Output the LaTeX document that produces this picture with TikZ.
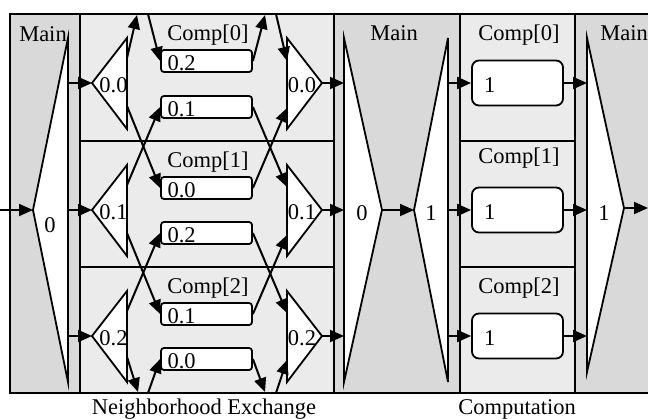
\documentclass[tikz,border=0pt]{standalone}
\usepackage{fontspec}
\setmainfont{Liberation Serif}
\usetikzlibrary{arrows.meta}
\definecolor{maingray}{RGB}{217,217,217}
\definecolor{compgray}{RGB}{235,235,235}

\begin{document}
\begin{tikzpicture}[x=1pt,y=1pt]
\tikzstyle{every node}+=[inner sep=0pt,font=\fontsize{22.5}{27}\selectfont]
\tikzstyle{panel}=[draw=black,line width=1.8pt]
\tikzstyle{tri}=[draw=black,fill=white,line width=1.8pt]
\tikzstyle{arr}=[line width=2pt,-{Triangle[length=14pt,width=12pt]}]
\tikzstyle{xbox}=[draw=black,fill=white,line width=1.8pt,rounded corners=3pt,minimum width=91pt,minimum height=22pt,text width=78pt,inner xsep=6.5pt,align=left,text height=19pt,text depth=0pt]
\tikzstyle{cbox}=[xbox,minimum height=45pt,rounded corners=7pt,text width=67pt,inner xsep=12pt]
\useasboundingbox (0,0) rectangle (648,-418);
% phases
\draw [panel,fill=maingray] (10,-14) rectangle (80,-393);
\draw [panel,fill=compgray] (80,-14) rectangle (334,-393);
\draw [panel,fill=maingray] (334,-14) rectangle (460,-393);
\draw [panel,fill=compgray] (460,-14) rectangle (575,-393);
\draw [panel,fill=maingray] (575,-14) rectangle (652,-393);
\draw [panel] (80,-141) -- (334,-141);
\draw [panel] (80,-267) -- (334,-267);
\draw [panel] (460,-141) -- (575,-141);
\draw [panel] (460,-267) -- (575,-267);
\node [anchor=base] (main1) at (43,-41) {Main};
\node [anchor=base] (main2) at (394,-40) {Main};
\node [anchor=base] (main3) at (624,-40) {Main};
\node [anchor=base] (xlab0) at (208,-40) {Comp[0]};
\node [anchor=base] (xlab1) at (208,-167) {Comp[1]};
\node [anchor=base] (xlab2) at (208,-293) {Comp[2]};
\node [anchor=base] (clab0) at (519,-40) {Comp[0]};
\node [anchor=base] (clab1) at (519,-163) {Comp[1]};
\node [anchor=base] (clab2) at (519,-293) {Comp[2]};
\node [anchor=base] (nelab) at (204,-414) {Neighborhood Exchange};
\node [anchor=base] (cplab) at (517,-414) {Computation};
% main 0 scatter
\coordinate (m1t) at (68,-38);
\coordinate (m1p) at (33,-210);
\coordinate (m1b) at (68,-382);
\draw [tri] (m1t) -- (m1p) -- (m1b) -- cycle;
\node [anchor=base] (m1lab) at (50,-232) {0};
% exchange scatter
\coordinate (sl0t) at (127,-38);
\coordinate (sl0) at (92,-83);
\coordinate (sl0b) at (127,-129);
\coordinate (sl0u) at (127,-58);
\coordinate (sl0d) at (127,-106);
\coordinate (sl1t) at (127,-165);
\coordinate (sl1) at (92,-210);
\coordinate (sl1b) at (127,-256);
\coordinate (sl1u) at (127,-185);
\coordinate (sl1d) at (127,-233);
\coordinate (sl2t) at (127,-291);
\coordinate (sl2) at (92,-336);
\coordinate (sl2b) at (127,-382);
\coordinate (sl2u) at (127,-311);
\coordinate (sl2d) at (127,-357);
\draw [tri] (sl0t) -- (sl0) -- (sl0b) -- cycle;
\draw [tri] (sl1t) -- (sl1) -- (sl1b) -- cycle;
\draw [tri] (sl2t) -- (sl2) -- (sl2b) -- cycle;
\node [anchor=base] (sl0lab) at (113.5,-92) {0.0};
\node [anchor=base] (sl1lab) at (113.5,-219) {0.1};
\node [anchor=base] (sl2lab) at (113.5,-345) {0.2};
% exchange gather
\coordinate (sr0t) at (287,-38);
\coordinate (sr0) at (322,-83);
\coordinate (sr0b) at (287,-129);
\coordinate (sr0u) at (287,-61);
\coordinate (sr0d) at (287,-108);
\coordinate (sr1t) at (287,-165);
\coordinate (sr1) at (322,-210);
\coordinate (sr1b) at (287,-256);
\coordinate (sr1u) at (287,-187);
\coordinate (sr1d) at (287,-235);
\coordinate (sr2t) at (287,-291);
\coordinate (sr2) at (322,-336);
\coordinate (sr2b) at (287,-382);
\coordinate (sr2u) at (287,-313);
\coordinate (sr2d) at (287,-360);
\draw [tri] (sr0t) -- (sr0) -- (sr0b) -- cycle;
\draw [tri] (sr1t) -- (sr1) -- (sr1b) -- cycle;
\draw [tri] (sr2t) -- (sr2) -- (sr2b) -- cycle;
\node [anchor=base] (sr0lab) at (302,-92) {0.0};
\node [anchor=base] (sr1lab) at (302,-219) {0.1};
\node [anchor=base] (sr2lab) at (302,-345) {0.2};
% halo buffers
\node [xbox] (x0a) at (206.5,-61) {0.2};
\node [xbox] (x0b) at (206.5,-107) {0.1};
\node [xbox] (x1a) at (206.5,-188) {0.0};
\node [xbox] (x1b) at (206.5,-233) {0.2};
\node [xbox] (x2a) at (206.5,-314) {0.1};
\node [xbox] (x2b) at (206.5,-359) {0.0};
% main 0 gather, main 1 scatter
\coordinate (m2at) at (344,-38);
\coordinate (m2ap) at (382,-210);
\coordinate (m2ab) at (344,-382);
\draw [tri] (m2at) -- (m2ap) -- (m2ab) -- cycle;
\node [anchor=base] (m2alab) at (362,-220) {0};
\coordinate (m2bt) at (448,-38);
\coordinate (m2bp) at (414,-210);
\coordinate (m2bb) at (448,-382);
\draw [tri] (m2bt) -- (m2bp) -- (m2bb) -- cycle;
\node [anchor=base] (m2blab) at (431,-220) {1};
% computation
\node [cbox] (c0) at (517.5,-83) {1};
\node [cbox] (c1) at (517.5,-210) {1};
\node [cbox] (c2) at (517.5,-336) {1};
% main 1 gather
\coordinate (m3t) at (587,-38);
\coordinate (m3p) at (624,-208);
\coordinate (m3b) at (587,-372);
\draw [tri] (m3t) -- (m3p) -- (m3b) -- cycle;
\node [anchor=base] (m3lab) at (604,-220) {1};
% wrap-around ends
\coordinate (in) at (0,-210);
\coordinate (out) at (648,-208);
\coordinate (wrapl0) at (137,-15);
\coordinate (wrapl1) at (148,-14);
\coordinate (wrapr0) at (265,-15);
\coordinate (wrapr1) at (276,-14);
\coordinate (wrapl2) at (138,-392);
\coordinate (wrapl3) at (148,-393);
\coordinate (wrapr2) at (265,-392);
\coordinate (wrapr3) at (276,-393);
% data flow
\draw [arr] (in) -- (m1p);
\draw [arr] (sl0 -| m1t) -- (sl0);
\draw [arr] (sl1 -| m1t) -- (sl1);
\draw [arr] (sl2 -| m1t) -- (sl2);
\draw [arr] (sl0u) -- (wrapl0);
\draw [arr] (wrapl1) -- (x0a.west);
\draw [arr] (sl0d) -- (x1a.west);
\draw [arr] (sl1u) -- (x0b.west);
\draw [arr] (sl1d) -- (x2a.west);
\draw [arr] (sl2u) -- (x1b.west);
\draw [arr] (sl2d) -- (wrapl2);
\draw [arr] (wrapl3) -- (x2b.west);
\draw [arr] (x0a.east) -- (wrapr0);
\draw [arr] (wrapr1) -- (sr0u);
\draw [arr] (x0b.east) -- (sr1u);
\draw [arr] (x1a.east) -- (sr0d);
\draw [arr] (x1b.east) -- (sr2u);
\draw [arr] (x2a.east) -- (sr1d);
\draw [arr] (x2b.east) -- (wrapr2);
\draw [arr] (wrapr3) -- (sr2d);
\draw [arr] (sr0) -- (sr0 -| m2at);
\draw [arr] (sr1) -- (sr1 -| m2at);
\draw [arr] (sr2) -- (sr2 -| m2at);
\draw [arr] (m2ap) -- (m2bp);
\draw [arr] (m2bt |- c0) -- (c0);
\draw [arr] (m2bt |- c1) -- (c1);
\draw [arr] (m2bt |- c2) -- (c2);
\draw [arr] (c0) -- (c0 -| m3t);
\draw [arr] (c1) -- (c1 -| m3t);
\draw [arr] (c2) -- (c2 -| m3t);
\draw [arr] (m3p) -- (out);
\end{tikzpicture}
\end{document}
